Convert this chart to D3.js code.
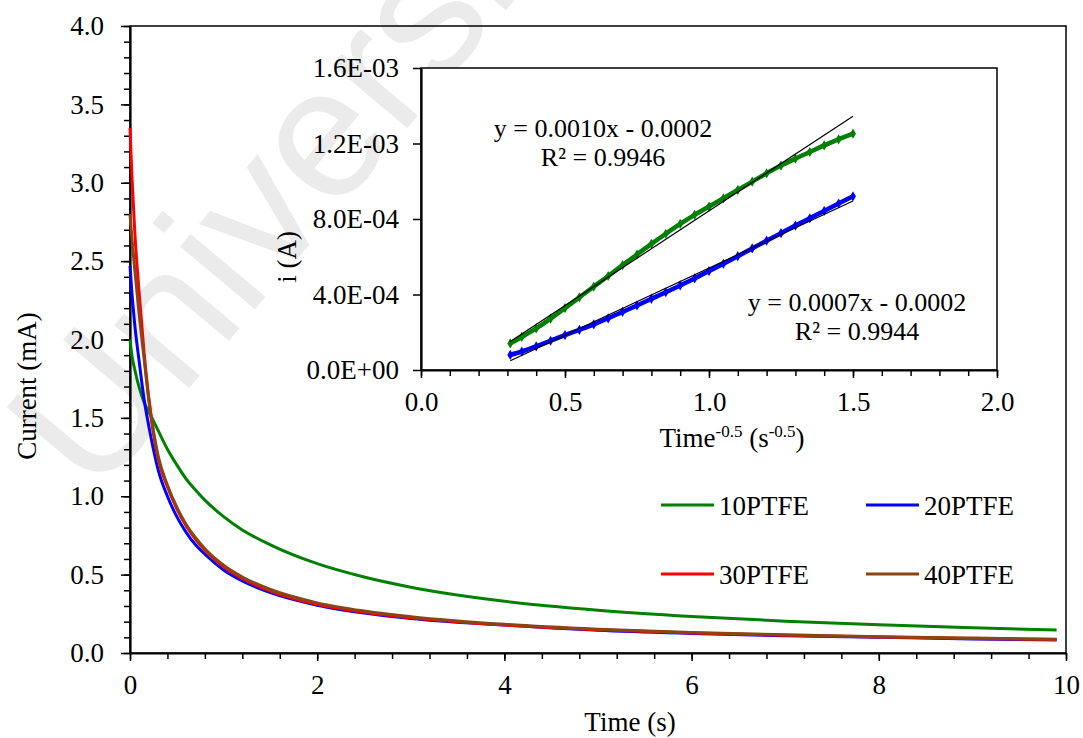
<!DOCTYPE html>
<html><head><meta charset="utf-8">
<script src="https://cdn.jsdelivr.net/npm/d3@7"></script>
<style>
body{margin:0;background:#fff}
svg{display:block}
text{font-family:"Liberation Serif","Times New Roman",Times,"Nimbus Roman","Nimbus Roman No9 L",FreeSerif,Tinos,"Noto Serif","DejaVu Serif",serif;fill:#000}
</style>
</head><body><svg id="c" width="1083" height="738"></svg>
<script>
// ---------------- data (main chart) ----------------
const time   = [0, 0.02, 0.05, 0.1, 0.15, 0.2, 0.25, 0.3, 0.4, 0.5, 0.6, 0.7, 0.8, 1.0, 1.2, 1.5, 2.0, 2.5, 3.0, 4.0, 5.0, 6.0, 7.0, 8.0, 9.0, 9.9];
const cur10  = [2.0, 1.9, 1.81, 1.69, 1.6, 1.54, 1.48, 1.42, 1.30, 1.20, 1.11, 1.04, 0.975, 0.87, 0.785, 0.69, 0.57, 0.485, 0.42, 0.33, 0.273, 0.233, 0.203, 0.18, 0.161, 0.147];
const cur20  = [2.47, 2.3, 2.1, 1.85, 1.62, 1.45, 1.3, 1.17, 1.0, 0.87, 0.77, 0.69, 0.63, 0.53, 0.46, 0.385, 0.305, 0.255, 0.22, 0.178, 0.145, 0.125, 0.11, 0.1, 0.09, 0.083];
const cur30  = [3.35, 3.05, 2.7, 2.28, 1.92, 1.63, 1.4, 1.24, 1.06, 0.92, 0.81, 0.725, 0.655, 0.55, 0.475, 0.395, 0.31, 0.26, 0.225, 0.178, 0.148, 0.128, 0.113, 0.102, 0.093, 0.086];
const cur40  = [2.8, 2.65, 2.45, 2.15, 1.88, 1.62, 1.42, 1.26, 1.07, 0.93, 0.82, 0.735, 0.665, 0.56, 0.485, 0.405, 0.32, 0.268, 0.232, 0.183, 0.152, 0.131, 0.116, 0.104, 0.095, 0.088];
const seriesNames  = ["10PTFE", "20PTFE", "30PTFE", "40PTFE"];
const seriesColors = ["#008000", "#0000ff", "#ff0000", "#8b4513"];
const xTicks = [0, 2, 4, 6, 8, 10];
const yTicks = [0, 0.5, 1.0, 1.5, 2.0, 2.5, 3.0, 3.5, 4.0];

// ---------------- data (inset) ----------------
const insetX  = [0.31, 0.35, 0.40, 0.45, 0.50, 0.55, 0.60, 0.65, 0.70, 0.75, 0.80, 0.85, 0.90, 0.95, 1.00, 1.05, 1.10, 1.15, 1.20, 1.25, 1.30, 1.35, 1.40, 1.45, 1.50];
const inset10 = [1.41e-4, 1.75e-4, 2.2e-4, 2.72e-4, 3.28e-4, 3.85e-4, 4.42e-4, 4.98e-4, 5.56e-4, 6.12e-4, 6.68e-4, 7.22e-4, 7.74e-4, 8.22e-4, 8.66e-4, 9.1e-4, 9.54e-4, 9.98e-4, 1.042e-3, 1.083e-3, 1.12e-3, 1.155e-3, 1.19e-3, 1.222e-3, 1.252e-3];
const inset20 = [0.8e-4, 0.98e-4, 1.25e-4, 1.55e-4, 1.85e-4, 2.13e-4, 2.42e-4, 2.74e-4, 3.08e-4, 3.42e-4, 3.77e-4, 4.12e-4, 4.48e-4, 4.85e-4, 5.24e-4, 5.63e-4, 6.03e-4, 6.44e-4, 6.85e-4, 7.25e-4, 7.65e-4, 8.04e-4, 8.43e-4, 8.82e-4, 9.2e-4];
const fitSlope     = [0.001003, 0.000711];
const fitIntercept = [-0.000160, -0.000171];
const fitRange     = [0.31, 1.5];
const eqLabels = [["y = 0.0010x - 0.0002", "R² = 0.9946"], ["y = 0.0007x - 0.0002", "R² = 0.9944"]];
const insetXTicks  = [0, 0.5, 1.0, 1.5, 2.0];
const insetYTicks  = [0, 4e-4, 8e-4, 1.2e-3, 1.6e-3];
const insetYLabels = ["0.0E+00", "4.0E-04", "8.0E-04", "1.2E-03", "1.6E-03"];

// ---------------- drawing ----------------
const SERIF = '"Liberation Serif","Times New Roman",Times,"Nimbus Roman","Nimbus Roman No9 L",FreeSerif,Tinos,"Noto Serif","DejaVu Serif",serif';
const svg = d3.select("#c").style("font-family", SERIF);
const FS = 27;

// watermark
svg.append("text").text("Universiti")
  .attr("transform", "translate(95,500) rotate(-50)")
  .style("font-family", "'Liberation Sans', Arial, sans-serif")
  .style("font-size", "185px").style("fill", "#ebebeb");

const x = d3.scaleLinear().domain([0, 10]).range([130, 1066]);
const y = d3.scaleLinear().domain([0, 4]).range([653, 26]);

// frame
svg.append("rect").attr("x", 130).attr("y", 26).attr("width", 936).attr("height", 627)
  .attr("fill", "none").attr("stroke", "#000").attr("stroke-width", 1.5);

function styleAxis(g) {
  g.attr("font-family", SERIF);
  g.select(".domain").attr("stroke-width", 2.2);
  g.selectAll(".tick line").attr("stroke-width", 1.5);
  g.selectAll(".tick text").style("font-size", FS + "px").style("font-family", SERIF);
}

// x minor
svg.append("g").attr("transform", "translate(0,653)")
  .call(d3.axisBottom(x).tickValues(d3.range(0, 10.01, 0.4)).tickSize(6).tickFormat(""))
  .call(g => { g.select(".domain").remove(); g.selectAll(".tick line").attr("stroke-width", 1.5); });
svg.append("g").attr("transform", "translate(0,653)")
  .call(d3.axisBottom(x).tickValues(xTicks).tickSize(8).tickSizeOuter(0).tickPadding(14).tickFormat(d3.format("d")))
  .call(styleAxis);
// y minor
svg.append("g").attr("transform", "translate(130,0)")
  .call(d3.axisLeft(y).tickValues(d3.range(0, 4.001, 0.1)).tickSize(6).tickFormat(""))
  .call(g => { g.select(".domain").remove(); g.selectAll(".tick line").attr("stroke-width", 1.5); });
svg.append("g").attr("transform", "translate(130,0)")
  .call(d3.axisLeft(y).tickValues(yTicks).tickSize(9).tickSizeOuter(0).tickPadding(17).tickFormat(d3.format(".1f")))
  .call(styleAxis);

// titles
svg.append("text").text("Time (s)").attr("x", 630).attr("y", 731).attr("text-anchor", "middle").style("font-size", FS + "px");
svg.append("text").text("Current (mA)").attr("transform", "translate(36,386) rotate(-90)").attr("text-anchor", "middle").style("font-size", FS + "px");

// lines
const mainSeries = [cur10, cur20, cur30, cur40];
const line = d3.line().x(d => x(d[0])).y(d => y(d[1])).curve(d3.curveMonotoneX);
mainSeries.forEach((s, i) => {
  svg.append("path").datum(time.map((t, k) => [t, s[k]]))
    .attr("d", line).attr("fill", "none").attr("stroke", seriesColors[i]).attr("stroke-width", 3);
});

// legend
const legPos = [[661, 505], [866, 505], [661, 574], [866, 574]];
seriesNames.forEach((n, i) => {
  const [lx, ly] = legPos[i];
  svg.append("line").attr("x1", lx).attr("x2", lx + 53).attr("y1", ly).attr("y2", ly)
    .attr("stroke", seriesColors[i]).attr("stroke-width", 3);
  svg.append("text").text(n).attr("x", lx + 58).attr("y", ly + 10).style("font-size", FS + "px");
});

// ---------------- inset ----------------
const ix = d3.scaleLinear().domain([0, 2]).range([421, 997]);
const iy = d3.scaleLinear().domain([0, 1.6e-3]).range([370, 68]);

svg.append("rect").attr("x", 421).attr("y", 68).attr("width", 576).attr("height", 302)
  .attr("fill", "#fff").attr("stroke", "#000").attr("stroke-width", 1.5);

svg.append("g").attr("transform", "translate(0,370)")
  .call(d3.axisBottom(ix).tickValues(d3.range(0, 2.001, 0.1)).tickSize(6).tickFormat(""))
  .call(g => { g.select(".domain").remove(); g.selectAll(".tick line").attr("stroke-width", 1.5); });
svg.append("g").attr("transform", "translate(0,370)")
  .call(d3.axisBottom(ix).tickValues(insetXTicks).tickSize(8).tickSizeOuter(0).tickPadding(14).tickFormat(d3.format(".1f")))
  .call(styleAxis);
svg.append("g").attr("transform", "translate(421,0)")
  .call(d3.axisLeft(iy).tickValues(insetYTicks).tickSize(8).tickSizeOuter(0).tickPadding(14).tickFormat((d, i) => insetYLabels[i]))
  .call(styleAxis);

// inset titles
const xt = svg.append("text").attr("x", 732).attr("y", 447).attr("text-anchor", "middle").style("font-size", FS + "px");
xt.append("tspan").text("Time");
xt.append("tspan").text("-0.5").attr("dy", -10).style("font-size", "17px");
xt.append("tspan").text(" (s").attr("dy", 10);
xt.append("tspan").text("-0.5").attr("dy", -10).style("font-size", "17px");
xt.append("tspan").text(")").attr("dy", 10);
svg.append("text").text("i (A)").attr("transform", "translate(296,257) rotate(-90)").attr("text-anchor", "middle").style("font-size", FS + "px");

// inset data
const insetSeries = [inset10, inset20];
const insetColors = [seriesColors[0], seriesColors[1]];
const iline = d3.line().x(d => ix(d[0])).y(d => iy(d[1])).curve(d3.curveMonotoneX);
const diamond = d3.symbol().type(d3.symbolDiamond).size(30);
insetSeries.forEach((s, i) => {
  const pts = insetX.map((v, k) => [v, s[k]]);
  svg.append("path").datum(pts).attr("d", iline).attr("fill", "none")
    .attr("stroke", insetColors[i]).attr("stroke-width", 4.5);
  svg.append("g").selectAll("path").data(pts).join("path")
    .attr("transform", d => `translate(${ix(d[0])},${iy(d[1])})`)
    .attr("d", diamond).attr("fill", insetColors[i]);
});
// fit lines
fitSlope.forEach((m, i) => {
  svg.append("line")
    .attr("x1", ix(fitRange[0])).attr("y1", iy(m * fitRange[0] + fitIntercept[i]))
    .attr("x2", ix(fitRange[1])).attr("y2", iy(m * fitRange[1] + fitIntercept[i]))
    .attr("stroke", "#000").attr("stroke-width", 1.2);
});
// equations
const eqPos = [[603, 137], [857, 311]];
eqLabels.forEach((lines, i) => {
  lines.forEach((t, j) => {
    svg.append("text").text(t).attr("x", eqPos[i][0]).attr("y", eqPos[i][1] + j * 29)
      .attr("text-anchor", "middle").style("font-size", "26px");
  });
});
</script>
</body></html>
